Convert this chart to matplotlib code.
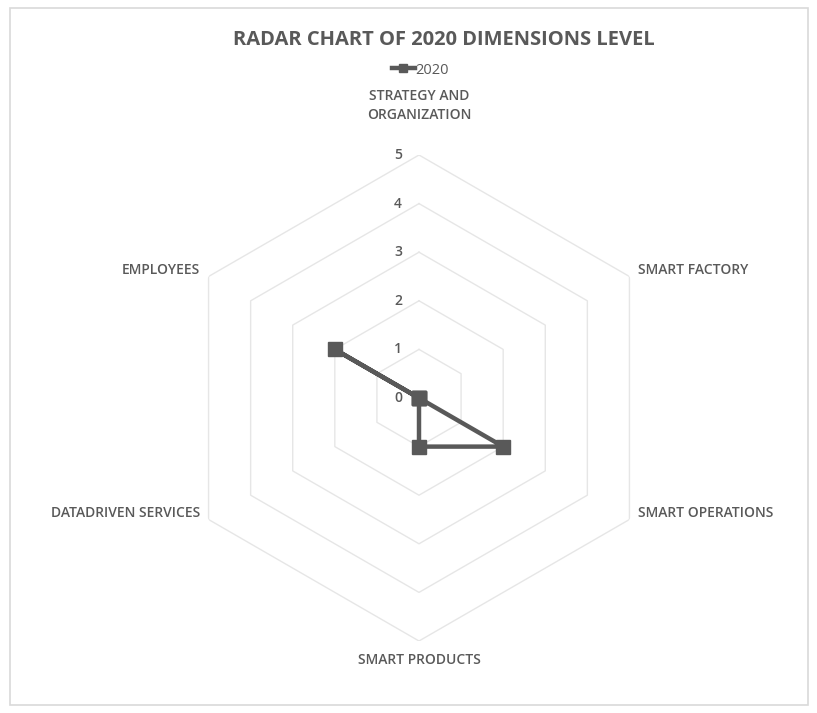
import numpy as np
import matplotlib
matplotlib.use("Agg")
import matplotlib.pyplot as plt
from matplotlib.patches import Rectangle

categories = ["STRATEGY AND\nORGANIZATION", "SMART FACTORY", "SMART OPERATIONS",
              "SMART PRODUCTS", "DATADRIVEN SERVICES", "EMPLOYEES"]
values_2020 = [0, 0, 2, 1, 0, 2]
series_name = "2020"
ticks = [0, 1, 2, 3, 4, 5]
title = "RADAR CHART OF 2020 DIMENSIONS LEVEL"

plt.rcParams['font.family'] = ['Open Sans', 'DejaVu Sans']
TXT = "#595959"
GRID = "#e6e6e6"

W, H = 817, 713
fig = plt.figure(figsize=(W / 100, H / 100), dpi=100)
fig.patch.set_facecolor("white")
fig.patches.append(Rectangle((10 / W, 8 / H), 798 / W, 697 / H, transform=fig.transFigure,
                             fill=False, edgecolor="#d9d9d9", lw=1.2))

cx, cy, R = 419, 398, 243
ax = fig.add_axes([(cx - R) / W, (H - cy - R) / H, 2 * R / W, 2 * R / H], projection="polar")
ax.set_theta_offset(np.pi / 2)
ax.set_theta_direction(-1)
ax.set_ylim(0, 5)
ax.grid(False)
ax.spines["polar"].set_visible(False)
ax.set_xticks([])
ax.set_yticks([])
ax.patch.set_alpha(0)

n = len(categories)
theta = np.arange(n) * 2 * np.pi / n
theta_c = np.append(theta, theta[0])

# hexagonal grid
for t in ticks[1:]:
    ax.plot(theta_c, [t] * (n + 1), color=GRID, lw=1.0, zorder=1)

# tick labels
for t in ticks:
    ax.annotate(str(t), xy=(0, t), xytext=(-15, 0), textcoords="offset points",
                ha="center", va="center", fontsize=10, color=TXT, fontweight="semibold")

# category labels
offsets = [(0, 24, "center", "bottom"), (6, 5, "left", "center"), (6, 5, "left", "center"),
           (0, -14, "center", "center"), (-6, 5, "right", "center"), (-6, 5, "right", "center")]
for th, lab, (dx, dy, ha, va) in zip(theta, categories, offsets):
    ax.annotate(lab, xy=(th, 5), xytext=(dx, dy), textcoords="offset points",
                ha=ha, va=va, fontsize=10, color=TXT, fontweight="semibold",
                linespacing=1.4)

vals = np.append(values_2020, values_2020[0])
ax.plot(theta_c, vals, color="#595959", lw=3.2, marker="s", markersize=10,
        label=series_name, zorder=3, clip_on=False)

fig.text(444 / W, 1 - 40 / H, title, ha="center", va="center", fontsize=14.5,
         fontweight="bold", color=TXT)
leg = fig.legend(loc="center", bbox_to_anchor=(420 / W, 1 - 70 / H), frameon=False,
                 handlelength=1.6, handletextpad=0.0, fontsize=10.5, markerscale=0.6)
for t in leg.get_texts():
    t.set_color(TXT)

fig.savefig("out.png", dpi=100)
